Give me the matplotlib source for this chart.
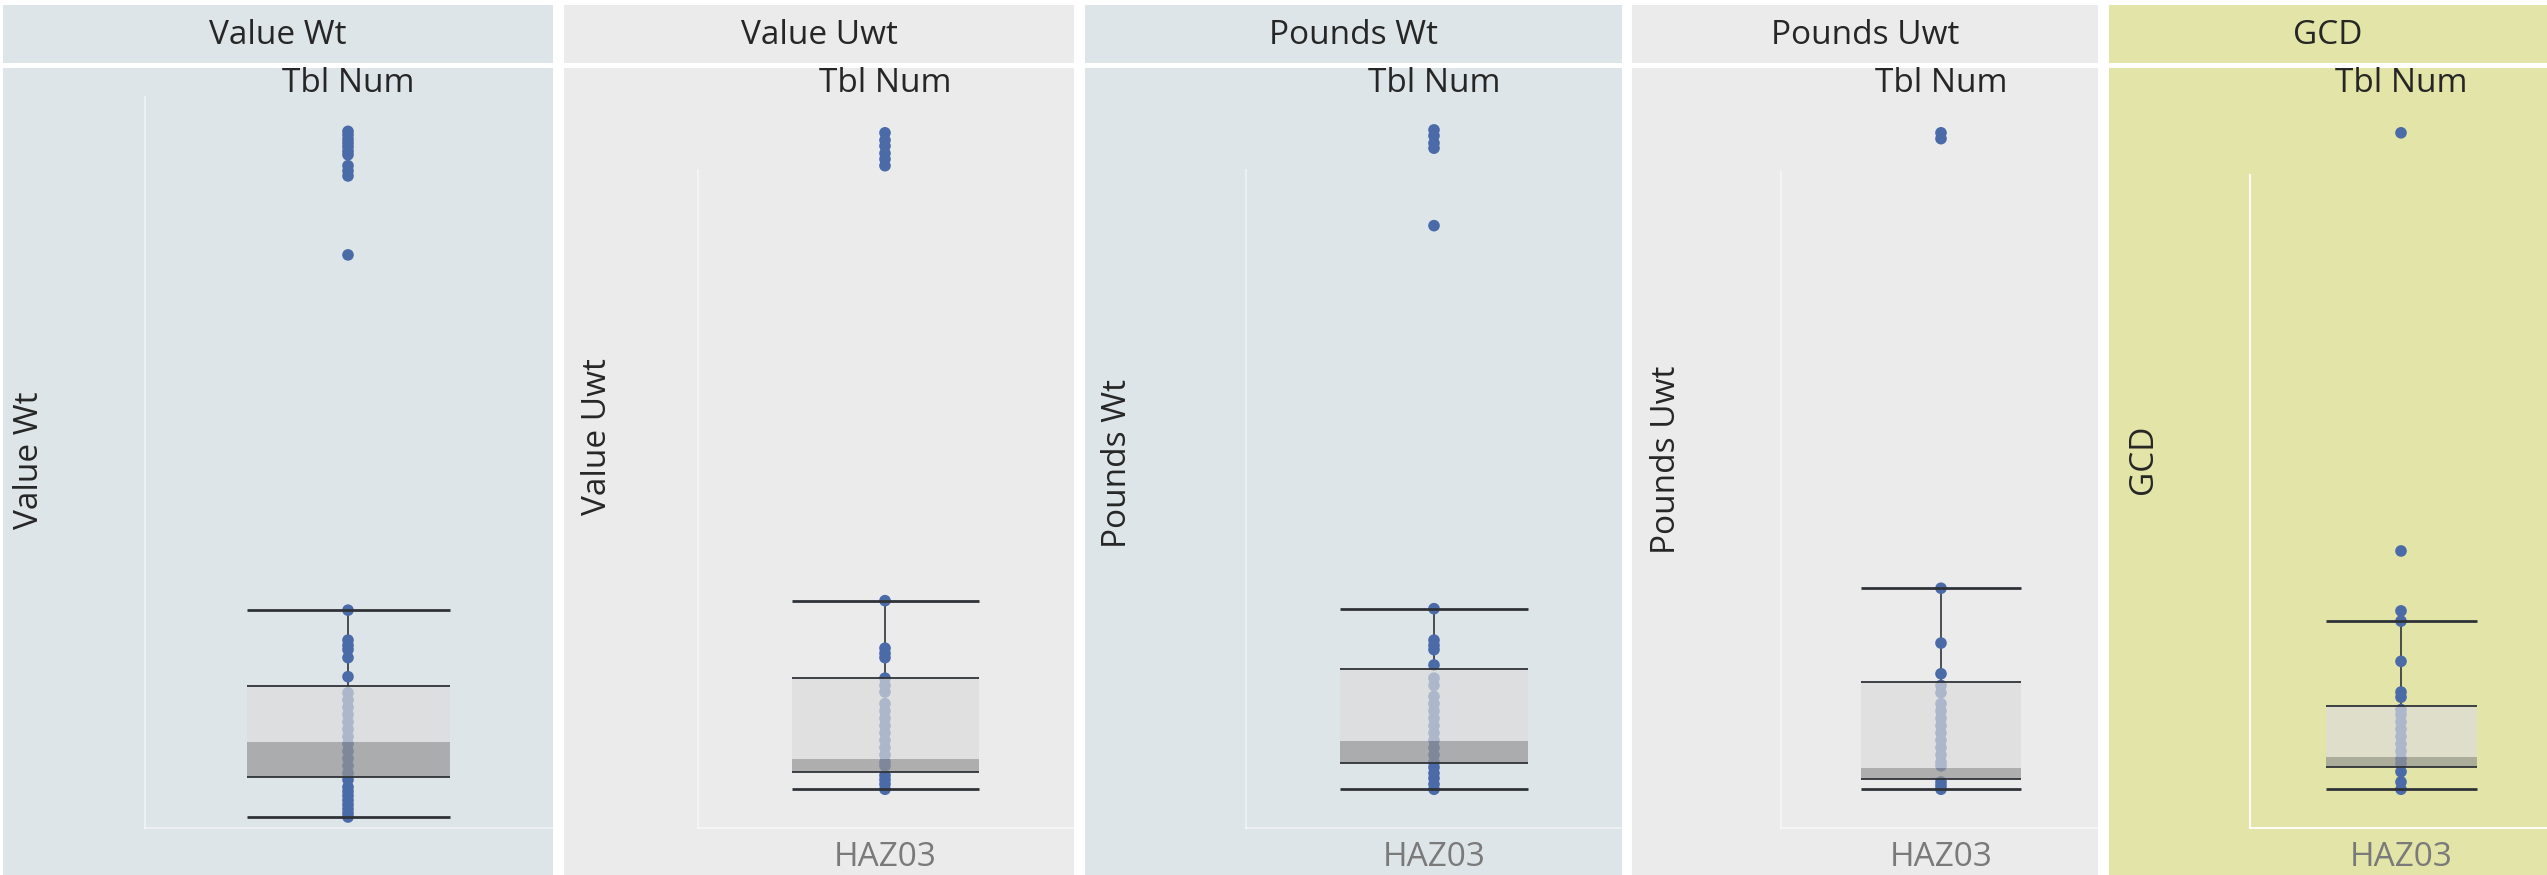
import matplotlib
matplotlib.use('Agg')
import matplotlib.pyplot as plt
from matplotlib.patches import Rectangle
from matplotlib.lines import Line2D
import numpy as np

plt.rcParams['font.family'] = ['Open Sans', 'DejaVu Sans']

# ---------------- data (relative scale 0-100, axis has no ticks) ----------------
measures = ['Value Wt', 'Value Uwt', 'Pounds Wt', 'Pounds Uwt', 'GCD']
table_label = 'Tbl Num'
category_labels = ['', 'HAZ03', 'HAZ03', 'HAZ03', 'HAZ03']

value_wt = [95.3, 94.8, 94.2, 93.7, 93.2, 92.6, 92.1, 90.6, 89.9, 89.2, 78.4,
            29.8, 25.7, 25.0, 24.4, 23.3, 20.7,
            18.5, 17.5, 16.5, 15.5, 14.5, 13.5, 12.5, 11.5, 10.5, 9.5, 8.5, 7.5,
            6.6, 5.6, 5.0, 4.4, 3.8, 3.2, 2.6, 2.0, 1.5]
value_uwt = [95.1, 94.1, 93.3, 92.3, 91.5, 90.6,
             31.1, 24.6, 23.9, 23.3, 20.5,
             19.5, 18.6, 17.0, 16.0, 15.0, 14.0, 13.0, 12.0, 11.0, 10.0, 9.0, 8.5,
             7.2, 6.6, 6.0, 5.3]
pounds_wt = [95.5, 94.7, 93.7, 93.0, 82.4,
             30.0, 25.7, 25.0, 24.4, 22.3,
             20.5, 19.5, 18.0, 17.0, 16.0, 15.0, 14.0, 13.0, 12.0, 11.0, 10.0, 9.0,
             8.3, 7.5, 6.8, 6.0, 5.3]
pounds_uwt = [95.1, 94.3,
              32.8, 25.3, 21.1,
              19.5, 18.5, 17.0, 16.0, 15.0, 14.0, 13.0, 12.0, 11.0, 10.0, 9.0, 8.5,
              6.3, 5.8, 5.3]
gcd = [95.1, 37.9, 29.7, 28.3, 22.8, 18.6, 17.9,
       16.2, 15.5, 14.5, 13.5, 12.5, 11.5, 10.5, 9.5, 8.8,
       7.7, 6.3, 5.3]

q1 = [7.0, 7.7, 8.9, 6.7, 8.3]
median = [11.8, 9.4, 11.9, 8.2, 9.7]
q3 = [19.4, 20.5, 21.8, 20.0, 16.7]
whisker_low = [1.5, 5.3, 5.3, 5.3, 5.3]
whisker_high = [29.8, 31.1, 30.0, 32.8, 28.3]

series = [value_wt, value_uwt, pounds_wt, pounds_uwt, gcd]

# ---------------- layout / style ----------------
W, H = 2547, 875
fig = plt.figure(figsize=(W / 100, H / 100), dpi=100)
fig.patch.set_facecolor('white')

def fx(x):
    return x / W

def fy(y):
    return 1 - y / H

panel_x = [(3, 553), (564, 1074), (1085, 1622), (1632, 2098), (2109, 2547)]
panel_col = ['#dee5e8', '#ebebeb', '#dee5e8', '#ebebeb', '#e3e4a7']
axis_line_x = [145, 698, 1246, 1781, 2250]
axis_line_alpha = [0.45, 0.45, 0.45, 0.45, 0.9]
box_center_x = [348, 885, 1434, 1941, 2401]
axis_line_top = [97, 170, 170, 172, 175]
ylabel_pos = [(30, 460), (598, 437), (1118, 463), (1667, 460), (2143, 459)]
ax_top, ax_bot = 97, 828

point_col = '#4a6aa8'
line_col = '#2f3338'
light_fill = '#dcdcdc'
dark_fill = '#959595'
text_col = '#262626'
fs = 24

for i, name in enumerate(measures):
    x0, x1 = panel_x[i]
    # header and body backgrounds
    fig.patches.append(Rectangle((fx(x0), fy(63)), fx(x1 - x0), (63 - 5) / H,
                                 transform=fig.transFigure, facecolor=panel_col[i],
                                 edgecolor='none', zorder=-2))
    fig.patches.append(Rectangle((fx(x0), 0), fx(x1 - x0), fy(68),
                                 transform=fig.transFigure, facecolor=panel_col[i],
                                 edgecolor='none', zorder=-2))
    fig.text(fx((x0 + x1) / 2), fy(35), name, ha='center', va='center',
             fontsize=fs, color=text_col)
    fig.text(fx(ylabel_pos[i][0]), fy(ylabel_pos[i][1]), name, rotation=90,
             ha='center', va='center', fontsize=fs, color=text_col)

    cx = box_center_x[i]
    lx = axis_line_x[i]
    half = cx - lx
    # faint white axis lines
    fig.lines.append(Line2D([fx(lx), fx(lx)], [fy(axis_line_top[i]), fy(ax_bot)],
                            transform=fig.transFigure, color='white', lw=1.5,
                            alpha=axis_line_alpha[i], zorder=-1))
    fig.lines.append(Line2D([fx(lx), fx(x1)], [fy(ax_bot), fy(ax_bot)],
                            transform=fig.transFigure, color='white', lw=1.5,
                            alpha=axis_line_alpha[i], zorder=-1))

    ax = fig.add_axes([fx(lx), fy(ax_bot), fx(2 * half), (ax_bot - ax_top) / H])
    ax.set_zorder(1)
    ax.set_facecolor('none')
    ax.set_xlim(-1, 1)
    ax.set_ylim(0, 100)
    for s in ax.spines.values():
        s.set_visible(False)
    ax.set_yticks([])
    ax.set_xticks([0])
    ax.set_xticklabels([category_labels[i]], fontsize=fs, color='#7a7a7a')
    ax.tick_params(axis='x', length=0, pad=9)

    fig.text(fx(cx), fy(84), table_label, ha='center', va='center',
             fontsize=fs, color=text_col)

    vals = np.array(series[i])
    # whiskers
    ax.vlines(0, q3[i], whisker_high[i], color=line_col, lw=1.2, zorder=2)
    ax.vlines(0, whisker_low[i], q1[i], color=line_col, lw=1.2, zorder=2)
    # points
    ax.scatter(np.zeros(len(vals)), vals, s=70, color=point_col,
               edgecolors='none', zorder=2.5)
    # box: upper part (q3..median) light, lower part (median..q1) dark
    ax.bar(0, q3[i] - median[i], bottom=median[i], width=1.0, color=light_fill,
           alpha=0.68, zorder=3, linewidth=0)
    ax.bar(0, median[i] - q1[i], bottom=q1[i], width=1.0, color=dark_fill,
           alpha=0.7, zorder=3, linewidth=0)
    # hinges and caps
    ax.hlines([q1[i], q3[i]], -0.5, 0.5, color=line_col, lw=1.3, zorder=4)
    ax.hlines([whisker_low[i], whisker_high[i]], -0.5, 0.5, color=line_col,
              lw=2.0, zorder=4)

fig.savefig('out.png', dpi=100, facecolor=fig.get_facecolor())
